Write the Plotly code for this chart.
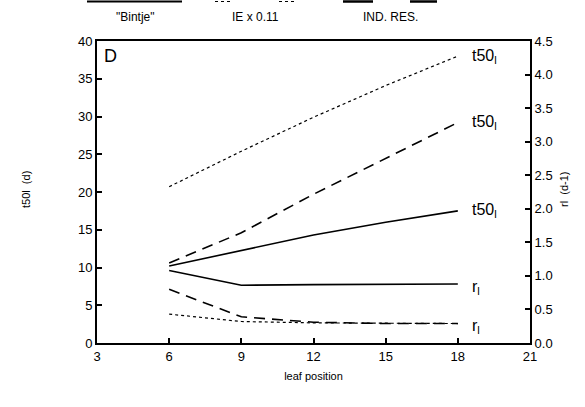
import plotly.graph_objects as go

leaf = [6, 9, 12, 15, 18]
# t50l (d), left axis
t50_bintje = [10.2, 12.2, 14.3, 16.0, 17.5]
t50_ie = [20.7, 25.4, 29.9, 34.1, 38.0]
t50_indres = [10.6, 14.6, 19.7, 24.5, 29.2]
# rl (d-1), right axis
r_bintje = [1.08, 0.86, 0.87, 0.88, 0.88]
r_ie = [0.43, 0.32, 0.30, 0.29, 0.29]
r_indres = [0.80, 0.39, 0.31, 0.29, 0.29]

x_ticks = [3, 6, 9, 12, 15, 18, 21]
y_ticks = [0, 5, 10, 15, 20, 25, 30, 35, 40]
y2_ticks = [0.0, 0.5, 1.0, 1.5, 2.0, 2.5, 3.0, 3.5, 4.0, 4.5]

FONT = "Liberation Sans, Arial, sans-serif"
BLK = "black"
W, H = 585, 407
L, R, T, B = 97, 55, 41, 64
PW, PH = W - L - R, H - T - B


def px(x):
    return (x - L) / PW


def py(y):
    return (H - B - y) / PH


fig = go.Figure()
solid = dict(color=BLK, width=1.6)
dotted = dict(color=BLK, width=1.2, dash="dot")
dashed = dict(color=BLK, width=1.6, dash="11px,7px")

fig.add_trace(go.Scatter(x=leaf, y=t50_bintje, mode="lines", line=solid))
fig.add_trace(go.Scatter(x=leaf, y=t50_ie, mode="lines", line=dotted))
fig.add_trace(go.Scatter(x=leaf, y=t50_indres, mode="lines", line=dashed))
fig.add_trace(go.Scatter(x=leaf, y=r_bintje, mode="lines", line=solid, yaxis="y2"))
fig.add_trace(go.Scatter(x=leaf, y=r_ie, mode="lines", line=dotted, yaxis="y2"))
fig.add_trace(go.Scatter(x=leaf, y=r_indres, mode="lines", line=dashed, yaxis="y2"))

ann = []
for yv in [t50_ie[-1], t50_indres[-1], t50_bintje[-1]]:
    ann.append(dict(x=18.5, y=yv, xref="x", yref="y", text="t50<sub>l</sub>",
                    showarrow=False, xanchor="left", yanchor="middle",
                    font=dict(family=FONT, size=16, color=BLK)))
for yv in [r_bintje[-1], r_ie[-1]]:
    ann.append(dict(x=18.5, y=yv - 0.05, xref="x", yref="y2", text="r<sub>l</sub>",
                    showarrow=False, xanchor="left", yanchor="middle",
                    font=dict(family=FONT, size=16, color=BLK)))
ann.append(dict(x=3.2, y=39.6, xref="x", yref="y", text="D", showarrow=False,
                xanchor="left", yanchor="top", font=dict(family=FONT, size=18, color=BLK)))
# legend texts
for xc, t in [(135, '"Bintje"'), (255, "IE x 0.11"), (390, "IND. RES.")]:
    ann.append(dict(x=px(xc), y=py(17), xref="paper", yref="paper", text=t,
                    showarrow=False, xanchor="center", yanchor="middle",
                    font=dict(family=FONT, size=12, color=BLK)))
ann.append(dict(x=px(18), y=py(190), xref="paper", yref="paper",
                text="t50l  (d)", textangle=-90, showarrow=False,
                font=dict(family=FONT, size=11, color=BLK)))
ann.append(dict(x=px(572), y=py(190), xref="paper", yref="paper",
                text="rl  (d-1)", textangle=-90, showarrow=False,
                font=dict(family=FONT, size=11, color=BLK)))

shapes = []
for x0, x1, d, w in [(87, 182, "solid", 2), (215, 233, "dot", 1.2), (279, 297, "dot", 1.2),
                     (343, 373, "solid", 2.5), (410, 437, "solid", 2.5)]:
    shapes.append(dict(type="line", xref="paper", yref="paper", x0=px(x0), x1=px(x1),
                       y0=py(1.5), y1=py(1.5), line=dict(color=BLK, width=w, dash=d)))

axis_common = dict(showgrid=False, zeroline=False, showline=True, linecolor=BLK, linewidth=2,
                   ticks="inside", ticklen=5, tickwidth=1.5, tickcolor=BLK,
                   tickfont=dict(family=FONT, size=13, color=BLK))

fig.update_layout(
    width=W, height=H, plot_bgcolor="white", paper_bgcolor="white",
    margin=dict(l=L, r=R, t=T, b=B), showlegend=False,
    xaxis=dict(range=[3, 21], tickvals=x_ticks, mirror=True,
               title=dict(text="leaf position", font=dict(family=FONT, size=11, color=BLK), standoff=10),
               **axis_common),
    yaxis=dict(range=[0, 40], tickvals=y_ticks, **axis_common),
    yaxis2=dict(range=[0, 4.5], tickvals=y2_ticks, tickformat=".1f", overlaying="y", side="right",
                **axis_common),
    annotations=ann, shapes=shapes,
)

fig.write_html("out.html")
